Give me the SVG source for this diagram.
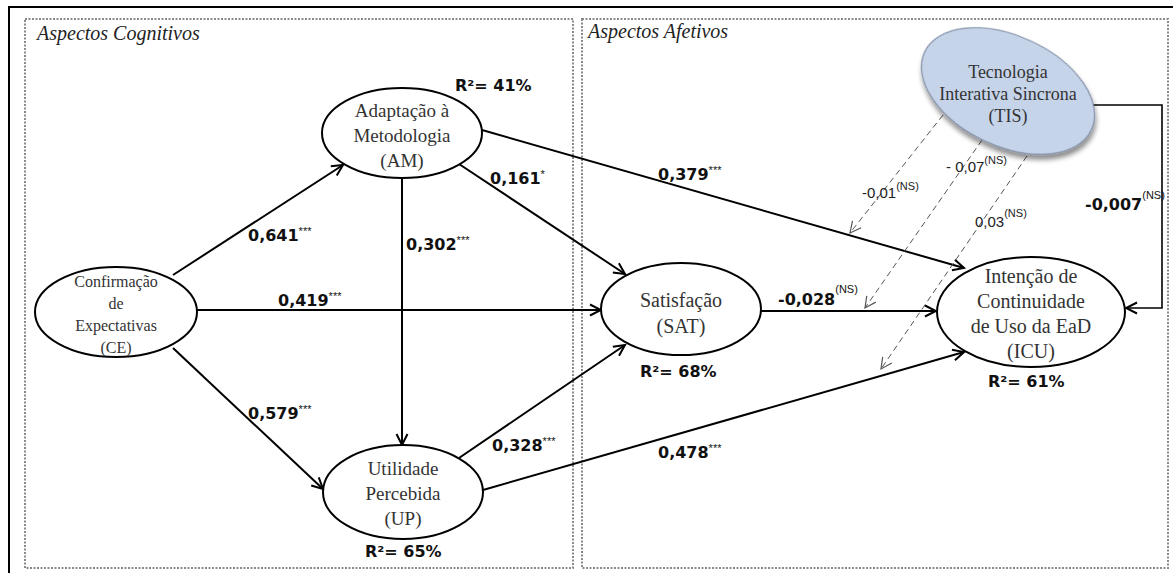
<svg xmlns="http://www.w3.org/2000/svg" width="1173" height="573" viewBox="0 0 1173 573">
<style>
.frame{fill:none;stroke:#000;stroke-width:2}
.panel{fill:none;stroke:#8a8a8a;stroke-width:2;stroke-dasharray:2 1.5}
.ptitle{font-family:"Liberation Serif",serif;font-style:italic;font-size:20px;fill:#222}
.node{fill:#fff;stroke:#000;stroke-width:2}
.nt{font-family:"Liberation Serif",serif;fill:#333;text-anchor:middle}
.edge{fill:none;stroke:#000;stroke-width:2}
.dash{fill:none;stroke:#555;stroke-width:1;stroke-dasharray:6 4}
.coef{font-family:"DejaVu Sans",sans-serif;font-weight:bold;font-size:16px;fill:#111}
.sup{font-family:"Liberation Sans",sans-serif;font-weight:normal;font-size:11px}
.dl{font-family:"Liberation Sans",sans-serif;font-size:15px;fill:#222}
</style>
<defs>
<marker id="arr" markerUnits="userSpaceOnUse" markerWidth="14" markerHeight="14" refX="12" refY="7" orient="auto">
<path d="M1,1.5 L12,7 L1,12.5" fill="none" stroke="#000" stroke-width="2"/>
</marker>
<marker id="arrd" markerUnits="userSpaceOnUse" markerWidth="14" markerHeight="14" refX="12" refY="7" orient="auto">
<path d="M1,1.5 L12,7 L1,12.5" fill="none" stroke="#555" stroke-width="1.2"/>
</marker>
<filter id="sh" x="-20%" y="-20%" width="150%" height="150%">
<feGaussianBlur in="SourceAlpha" stdDeviation="2.5"/>
<feOffset dx="3" dy="4" result="b"/>
<feComponentTransfer><feFuncA type="linear" slope="0.45"/></feComponentTransfer>
<feMerge><feMergeNode/><feMergeNode in="SourceGraphic"/></feMerge>
</filter>
</defs>

<rect class="frame" x="9" y="7" width="1200" height="600"/>
<g id="panel-cognitivos">
<rect class="panel" x="25" y="19" width="548" height="549"/>
<text class="ptitle" x="37" y="40">Aspectos Cognitivos</text>
</g>
<g id="panel-afetivos">
<rect class="panel" x="582" y="19" width="586" height="549"/>
<text class="ptitle" x="588" y="38">Aspectos Afetivos</text>
</g>

<g id="connectors">
<path class="edge" d="M173,275 L343,165" marker-end="url(#arr)"/>
<path class="edge" d="M197,310 L601,310" marker-end="url(#arr)"/>
<path class="edge" d="M173,348 L323,489" marker-end="url(#arr)"/>
<path class="edge" d="M402,178 L402,445" marker-end="url(#arr)"/>
<path class="edge" d="M459,164 L625,274" marker-end="url(#arr)"/>
<path class="edge" d="M482,130 L964,268" marker-end="url(#arr)"/>
<path class="edge" d="M459,458 L625,345" marker-end="url(#arr)"/>
<path class="edge" d="M483,490 L964,352" marker-end="url(#arr)"/>
<path class="edge" d="M761,311 L936,311" marker-end="url(#arr)"/>
<path class="edge" style="stroke-width:1.6" d="M1093,105 L1162,105 L1162,308 L1126,308" marker-end="url(#arr)"/>
<path class="dash" d="M943,115 L850,233" marker-end="url(#arrd)"/>
<path class="dash" d="M982,140 L865,308" marker-end="url(#arrd)"/>
<path class="dash" d="M1027,156 L881,369" marker-end="url(#arrd)"/>

<text class="coef" x="248" y="241">0,641<tspan class="sup" dy="-6">***</tspan></text>
<text class="coef" x="278" y="306">0,419<tspan class="sup" dy="-6">***</tspan></text>
<text class="coef" x="248" y="419">0,579<tspan class="sup" dy="-6">***</tspan></text>
<text class="coef" x="406" y="250">0,302<tspan class="sup" dy="-6">***</tspan></text>
<text class="coef" x="490" y="184">0,161<tspan class="sup" dy="-6">*</tspan></text>
<text class="coef" x="658" y="180">0,379<tspan class="sup" dy="-6">***</tspan></text>
<text class="coef" x="492" y="451">0,328<tspan class="sup" dy="-6">***</tspan></text>
<text class="coef" x="658" y="458">0,478<tspan class="sup" dy="-6">***</tspan></text>
<text class="coef" x="778" y="305">-0,028<tspan class="sup" dy="-12" font-size="12">(NS)</tspan></text>
<text class="coef" x="1085" y="210">-0,007<tspan class="sup" dy="-11" font-size="12">(NS)</tspan></text>
<text class="dl" x="862" y="198">-0,01<tspan font-size="11" dy="-8">(NS)</tspan></text>
<text class="dl" x="946" y="172">- 0,07<tspan font-size="11" dy="-8">(NS)</tspan></text>
<text class="dl" x="975" y="227">0,03<tspan font-size="11" dy="-10">(NS)</tspan></text>
</g>

<g id="node-ce">
<ellipse class="node" cx="116" cy="312" rx="81" ry="45"/>
<text class="nt" font-size="16"><tspan x="116" y="287">Confirmação</tspan><tspan x="116" y="309">de</tspan><tspan x="116" y="331">Expectativas</tspan><tspan x="116" y="353">(CE)</tspan></text>
</g>
<g id="node-am">
<ellipse class="node" cx="402" cy="133" rx="80" ry="45"/>
<text class="nt" font-size="19"><tspan x="402" y="117">Adaptação à</tspan><tspan x="402" y="142">Metodologia</tspan><tspan x="402" y="167">(AM)</tspan></text>
<text class="coef" x="455" y="91">R²= 41%</text>
</g>
<g id="node-sat">
<ellipse class="node" cx="681" cy="309" rx="80" ry="46"/>
<text class="nt" font-size="20"><tspan x="681" y="307">Satisfação</tspan><tspan x="681" y="333">(SAT)</tspan></text>
<text class="coef" x="640" y="377">R²= 68%</text>
</g>
<g id="node-up">
<ellipse class="node" cx="403" cy="492" rx="80" ry="47"/>
<text class="nt" font-size="19"><tspan x="403" y="475">Utilidade</tspan><tspan x="403" y="500">Percebida</tspan><tspan x="403" y="525">(UP)</tspan></text>
<text class="coef" x="365" y="557">R²= 65%</text>
</g>
<g id="node-icu">
<ellipse class="node" cx="1031" cy="312" rx="94" ry="55"/>
<text class="nt" font-size="20"><tspan x="1031" y="283">Intenção de</tspan><tspan x="1031" y="308">Continuidade</tspan><tspan x="1031" y="333">de Uso da EaD</tspan><tspan x="1031" y="358">(ICU)</tspan></text>
<text class="coef" x="988" y="387">R²= 61%</text>
</g>
<g id="node-tis">
<ellipse cx="1008" cy="91" rx="92" ry="55" transform="rotate(25 1008 91)" fill="#c6d4ea" stroke="#7d8ba3" stroke-width="1.2" filter="url(#sh)"/>
<text class="nt" font-size="18"><tspan x="1008" y="78">Tecnologia</tspan><tspan x="1008" y="100">Interativa  Sincrona</tspan><tspan x="1008" y="122">(TIS)</tspan></text>
</g>
</svg>
